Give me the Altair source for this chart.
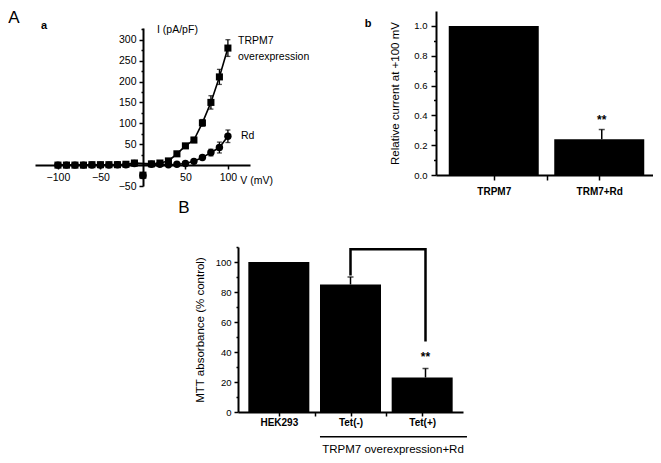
import json
import altair as alt
import pandas as pd

FONT = "Liberation Sans"

# ---------------- data ----------------
# Panel a : I-V relationship
voltage = [-100, -90, -80, -70, -60, -50, -40, -30, -20, -10, 0,
           10, 20, 30, 40, 50, 60, 70, 80, 90, 100]
trpm7_current = [0, 0, 0, 0, 1, 1, 1, 1, 2, 5, -24,
                 3, 5, 10, 27, 46, 60, 101, 150, 211, 280]
trpm7_err = [1, 1, 1, 1, 1, 1, 1, 1, 1, 2, 6,
             1, 2, 2, 3, 5, 6, 8, 16, 18, 20]
rd_current = [0, 0, 0, 0, 0, 0, 0, 1, 1, 4, -25,
              2, 2, 1, 2, 4, 9, 18, 30, 42, 69]
rd_err = [1, 1, 1, 1, 1, 1, 1, 1, 1, 1, 7,
          1, 1, 1, 1, 2, 3, 4, 8, 13, 15]

# Panel b : relative current at +100 mV
b_categories = ["TRPM7", "TRM7+Rd"]
b_values = [1.0, 0.24]
b_errors = [0.0, 0.065]

# Panel B : MTT absorbance
c_categories = ["HEK293", "Tet(-)", "Tet(+)"]
c_values = [100, 85, 23]
c_errors = [0, 5, 6]

# significance bracket (Tet(-) -> Tet(+)) in data units
bracket_x = [1, 1, 2, 2]
bracket_y = [91, 108.5, 108.5, 47]

W, H = 645, 447

# ---------------- scales ----------------
def sc(domain, rng):
    return alt.Scale(domain=domain, range=rng, nice=False, zero=False)

SXA = sc([-127, 126], [27, 242])
SYA = sc([-50, 328], [178, 20])
SXB = sc([-0.5, 1.5], [428, 649])
SYB = sc([0, 1.1], [167, 3])
SXC = sc([-0.5, 2.5], [230, 455])
SYC = sc([0, 110], [404, 239])

# ---------------- frames ----------------
dfa = pd.DataFrame({
    "v": voltage,
    "t": trpm7_current, "t_lo": [c - e for c, e in zip(trpm7_current, trpm7_err)],
    "t_hi": [c + e for c, e in zip(trpm7_current, trpm7_err)],
    "r": rd_current, "r_lo": [c - e for c, e in zip(rd_current, rd_err)],
    "r_hi": [c + e for c, e in zip(rd_current, rd_err)],
})
dfb = pd.DataFrame({"pos": list(range(len(b_categories))), "cat": b_categories,
                    "val": b_values, "err": b_errors})
dfb["hi"] = dfb["val"] + dfb["err"]
dfc = pd.DataFrame({"pos": list(range(len(c_categories))), "cat": c_categories,
                    "val": c_values, "err": c_errors})
dfc["hi"] = dfc["val"] + dfc["err"]
dfbr = pd.DataFrame({"x": bracket_x, "y": bracket_y, "o": list(range(len(bracket_x)))})

NOAX = None

def X(field, s, axis=NOAX):
    return alt.X(field, type="quantitative", scale=s, axis=axis)

def Y(field, s, axis=NOAX):
    return alt.Y(field, type="quantitative", scale=s, axis=axis)

layers = []

# ---------------- panel a ----------------
ax_a_x = alt.Axis(orient="bottom", offset=157 - H, values=[-100, -50, 50, 100],
                  format="d", tickSize=4, labelPadding=3, title=None,
                  labelFontSize=10.5)
ax_a_y = alt.Axis(orient="left", offset=-135, values=[-50, 50, 100, 150, 200, 250, 300],
                  format="d", tickSize=4, labelPadding=3, title=None,
                  labelFontSize=10.5)
ax_a_ym = alt.Axis(orient="left", offset=-135,
                   values=[-25, 25, 75, 125, 175, 225, 275, 325],
                   tickSize=2, labels=False, domain=False, title=None)

base_a = alt.Chart(dfa)
line_a = base_a.transform_filter("datum.v != 0")
layers.append(line_a.mark_line(color="black", strokeWidth=1.6).encode(
    x=X("v", SXA), y=Y("t", SYA, ax_a_ym)))
layers.append(line_a.mark_line(color="black", strokeWidth=1.6).encode(
    x=X("v", SXA), y=Y("r", SYA)))
for lo, hi in (("t_lo", "t_hi"), ("r_lo", "r_hi")):
    layers.append(base_a.mark_rule(color="black", strokeWidth=1.3).encode(
        x=X("v", SXA), y=Y(lo, SYA), y2=alt.Y2(hi)))
    for f in (lo, hi):
        layers.append(base_a.mark_tick(color="black", orient="horizontal",
                                       size=5, thickness=1.3).encode(
            x=X("v", SXA), y=Y(f, SYA)))
layers.append(base_a.mark_point(shape="square", filled=True, opacity=1,
                                color="black", size=50).encode(
    x=X("v", SXA, ax_a_x), y=Y("t", SYA, ax_a_y)))
layers.append(base_a.mark_circle(color="black", opacity=1, size=55).encode(
    x=X("v", SXA), y=Y("r", SYA)))

lab_a = pd.DataFrame({
    "x": [111.9, 111.9, 115.4, 16.6, 114.5],
    "y": [297, 258.6, 69.6, 323, -38],
    "txt": ["TRPM7", "overexpression", "Rd", "I (pA/pF)", "V (mV)"],
})
layers.append(alt.Chart(lab_a).mark_text(align="left", baseline="middle",
                                         fontSize=10.5, color="black").encode(
    x=X("x", SXA), y=Y("y", SYA), text="txt:N"))

# panel letters (placed in panel a / b / B data units)
lab_A = pd.DataFrame({"x": [-151.7], "y": [352], "txt": ["A"]})
layers.append(alt.Chart(lab_A).mark_text(align="center", baseline="middle",
                                         fontSize=17, color="black").encode(
    x=X("x", SXA), y=Y("y", SYA), text="txt:N"))
lab_sa = pd.DataFrame({"x": [-116.4], "y": [332.8], "txt": ["a"]})
layers.append(alt.Chart(lab_sa).mark_text(align="center", baseline="middle",
                                          fontSize=11, fontWeight="bold",
                                          color="black").encode(
    x=X("x", SXA), y=Y("y", SYA), text="txt:N"))

# ---------------- panel b ----------------
ax_b_x = alt.Axis(orient="bottom", offset=167 - H, values=[0, 0.5, 1],
                  labelExpr=json.dumps(b_categories) + "[datum.value] || ''",
                  tickSize=5, labelPadding=6, title=None, labelFontSize=10,
                  labelFontWeight="bold")
ax_b_y = alt.Axis(orient="left", offset=-428, values=[0, 0.2, 0.4, 0.6, 0.8, 1.0],
                  format=".1f", tickSize=5, labelPadding=4,
                  title="Relative current at +100 mV", titleFontSize=11.5,
                  titlePadding=13, labelFontSize=9.5)
ax_b_ym = alt.Axis(orient="left", offset=-428, values=[0.1, 0.3, 0.5, 0.7, 0.9],
                   tickSize=2.5, labels=False, domain=False, title=None)

base_b = alt.Chart(dfb)
layers.append(base_b.mark_bar(size=90, color="black").encode(
    x=X("pos", SXB, ax_b_x), y=Y("val", SYB, ax_b_y), y2=alt.Y2(datum=0)))
err_b = base_b.transform_filter("datum.err > 0")
layers.append(err_b.mark_rule(color="black", strokeWidth=1.5).encode(
    x=X("pos", SXB), y=Y("val", SYB, ax_b_ym), y2=alt.Y2("hi")))
layers.append(err_b.mark_tick(color="black", orient="horizontal", size=6,
                              thickness=1.5).encode(
    x=X("pos", SXB), y=Y("hi", SYB)))
star_b = pd.DataFrame({"x": [1], "y": [0.37], "txt": ["**"]})
layers.append(alt.Chart(star_b).mark_text(fontSize=12, fontWeight="bold",
                                          baseline="middle", color="black").encode(
    x=X("x", SXB), y=Y("y", SYB), text="txt:N"))
lab_b = pd.DataFrame({"x": [-1.115], "y": [1.013], "txt": ["b"]})
layers.append(alt.Chart(lab_b).mark_text(fontSize=11, fontWeight="bold",
                                         baseline="middle", color="black").encode(
    x=X("x", SXB), y=Y("y", SYB), text="txt:N"))

# ---------------- panel B ----------------
ax_c_x = alt.Axis(orient="bottom", offset=404 - H, values=[0, 0.5, 1, 1.5, 2],
                  labelExpr=json.dumps(c_categories) + "[datum.value] || ''",
                  tickSize=4, labelPadding=1, title=None, labelFontSize=10,
                  labelFontWeight="bold")
ax_c_y = alt.Axis(orient="left", offset=-230, values=[0, 20, 40, 60, 80, 100],
                  format="d", tickSize=4, labelPadding=3,
                  title="MTT absorbance (% control)", titleFontSize=11.5,
                  titlePadding=10, labelFontSize=9.5)
ax_c_ym = alt.Axis(orient="left", offset=-230, values=[10, 30, 50, 70, 90, 110],
                   tickSize=2, labels=False, domain=False, title=None)

base_c = alt.Chart(dfc)
layers.append(base_c.mark_bar(size=61, color="black").encode(
    x=X("pos", SXC, ax_c_x), y=Y("val", SYC, ax_c_y), y2=alt.Y2(datum=0)))
err_c = base_c.transform_filter("datum.err > 0")
layers.append(err_c.mark_rule(color="black", strokeWidth=1.5).encode(
    x=X("pos", SXC), y=Y("val", SYC, ax_c_ym), y2=alt.Y2("hi")))
layers.append(err_c.mark_tick(color="black", orient="horizontal", size=6,
                              thickness=1.5).encode(
    x=X("pos", SXC), y=Y("hi", SYC)))
layers.append(alt.Chart(dfbr).mark_line(color="black", strokeWidth=2.5,
                                        strokeJoin="miter").encode(
    x=X("x", SXC), y=Y("y", SYC), order="o:Q"))
star_c = pd.DataFrame({"x": [2], "y": [36.5], "txt": ["**"]})
layers.append(alt.Chart(star_c).mark_text(fontSize=12, fontWeight="bold",
                                          baseline="middle", color="black").encode(
    x=X("x", SXC), y=Y("y", SYC), text="txt:N"))
group_line = pd.DataFrame({"x": [0.593], "x2": [2.553], "y": [-16.5]})
layers.append(alt.Chart(group_line).mark_rule(color="black", strokeWidth=1.5).encode(
    x=X("x", SXC), x2=alt.X2("x2"), y=Y("y", SYC)))
group_lab = pd.DataFrame({"x": [1.567], "y": [-25.3], "txt": ["TRPM7 overexpression+Rd"]})
layers.append(alt.Chart(group_lab).mark_text(fontSize=11.5, baseline="middle",
                                             color="black").encode(
    x=X("x", SXC), y=Y("y", SYC), text="txt:N"))
lab_B = pd.DataFrame({"x": [-1.22], "y": [136], "txt": ["B"]})
layers.append(alt.Chart(lab_B).mark_text(fontSize=17, baseline="middle",
                                         color="black").encode(
    x=X("x", SXC), y=Y("y", SYC), text="txt:N"))

chart = (
    alt.layer(*layers)
    .resolve_scale(x="independent", y="independent")
    .properties(width=W, height=H, padding=0,
                autosize=alt.AutoSizeParams(type="none"))
    .configure_view(stroke=None)
    .configure_axis(grid=False, domainColor="black", domainWidth=2,
                    tickColor="black", tickWidth=1.5, labelColor="black",
                    labelFont=FONT, titleFont=FONT, titleColor="black",
                    titleFontWeight="normal")
    .configure_text(font=FONT)
)

chart.save("out.html", embed_options={"renderer": "svg", "actions": False})
